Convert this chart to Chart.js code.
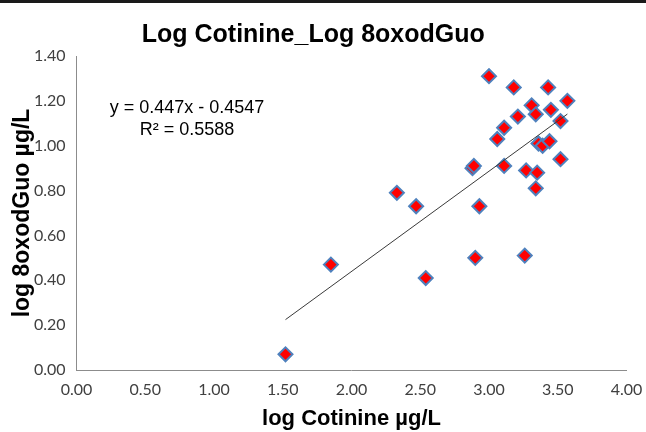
<!DOCTYPE html>
<html>
<head>
<meta charset="utf-8">
<script src="https://cdn.jsdelivr.net/npm/chart.js@4/dist/chart.umd.min.js"></script>
<style>
  html, body { margin:0; padding:0; background:#fff; }
  #wrap { width:646px; height:432px; }
</style>
</head>
<body>
<div id="wrap"><canvas id="scatter"></canvas></div>
<script>
// ── Data ────────────────────────────────────────────────
const cotinine = [1.52,1.85,2.33,2.47,2.54,2.88,2.89,2.93,2.90,3.00,3.06,3.11,3.11,3.18,3.21,
                  3.27,3.26,3.31,3.34,3.35,3.34,3.36,3.39,3.44,3.43,3.45,3.52,3.52,3.57];
const oxodGuo  = [0.07,0.47,0.79,0.73,0.41,0.90,0.91,0.73,0.50,1.31,1.03,1.08,0.91,1.26,1.13,
                  0.89,0.51,1.18,1.14,0.88,0.81,1.01,1.00,1.02,1.26,1.16,1.11,0.94,1.20];
const slope     = 0.447;
const intercept = -0.4547;
const rSquared  = 0.5588;
const xTicks = [0,0.5,1,1.5,2,2.5,3,3.5,4];
const yTicks = [0,0.2,0.4,0.6,0.8,1.0,1.2,1.4];

const points = cotinine.map((x,i) => ({ x, y: oxodGuo[i] }));
const xMin = Math.min(...cotinine), xMax = Math.max(...cotinine);
const trend = [xMin, xMax].map(x => ({ x, y: slope*x + intercept }));

// ── Small decorations: top rule + regression text ──────
const extras = {
  id: "extras",
  beforeDraw(chart) {
    const c = chart.ctx;
    c.save();
    c.fillStyle = "#fff"; c.fillRect(0,0,chart.width,chart.height);
    c.fillStyle = "#1a1a1a"; c.fillRect(0,0,chart.width,3);
    c.restore();
  },
  afterDraw(chart) {
    const c = chart.ctx;
    c.save();
    c.font = '18px "Liberation Sans", Arial, sans-serif';
    c.fillStyle = "#000";
    c.textAlign = "center"; c.textBaseline = "middle";
    c.fillText(`y = ${slope}x - ${Math.abs(intercept)}`, 187, 108);
    c.fillText(`R² = ${rSquared}`, 187, 130);
    c.restore();
  }
};

const tickFont = { family: "Lato, 'Open Sans', sans-serif", size: 16 };

new Chart(document.getElementById("scatter"), {
  type: "scatter",
  data: {
    datasets: [
      { type:"line", data: trend, borderColor:"#3a3a3a", borderWidth:1, pointRadius:0, fill:false },
      { data: points, pointStyle:"rectRot", pointRadius:7, pointHoverRadius:7,
        backgroundColor:"#ff0000", borderColor:"#4f81bd", borderWidth:2 }
    ]
  },
  options: {
    responsive:true, maintainAspectRatio:false, animation:false,
    layout: { padding: { left:0, right:19.5, top:0, bottom:0 } },
    plugins: {
      legend: { display:false }, tooltip: { enabled:false },
      title: {
        display:true, text:"Log Cotinine_Log 8oxodGuo", color:"#000",
        font: { family:"'Liberation Sans', Arial, sans-serif", size:25, weight:"bold" },
        padding: { top:20, bottom:6 }
      }
    },
    scales: {
      x: {
        type:"linear", min:0, max:4,
        afterBuildTicks: s => { s.ticks = xTicks.map(v => ({ value:v })); },
        afterFit: s => { s.height = 62; },
        grid: { display:false },
        border: { display:true, color:"#8c8c8c", width:1 },
        ticks: { color:"#404040", font:tickFont, padding:2, callback: v => Number(v).toFixed(2) },
        title: { display:true, text:"log Cotinine µg/L", color:"#000", padding:{ top:0, bottom:0 },
                 font: { family:"'Liberation Sans', Arial, sans-serif", size:22, weight:"bold" } }
      },
      y: {
        type:"linear", min:0, max:1.4,
        afterBuildTicks: s => { s.ticks = yTicks.map(v => ({ value:v })); },
        afterFit: s => { s.width = 76.5; },
        grid: { display:false },
        border: { display:true, color:"#8c8c8c", width:1 },
        ticks: { color:"#404040", font:tickFont, padding:3, callback: v => Number(v).toFixed(2) },
        title: { display:true, text:"log 8oxodGuo µg/L", color:"#000", padding:{ top:9, bottom:0 },
                 font: { family:"'Liberation Sans', Arial, sans-serif", size:23, weight:"bold" } }
      }
    }
  },
  plugins: [extras]
});
</script>
</body>
</html>
